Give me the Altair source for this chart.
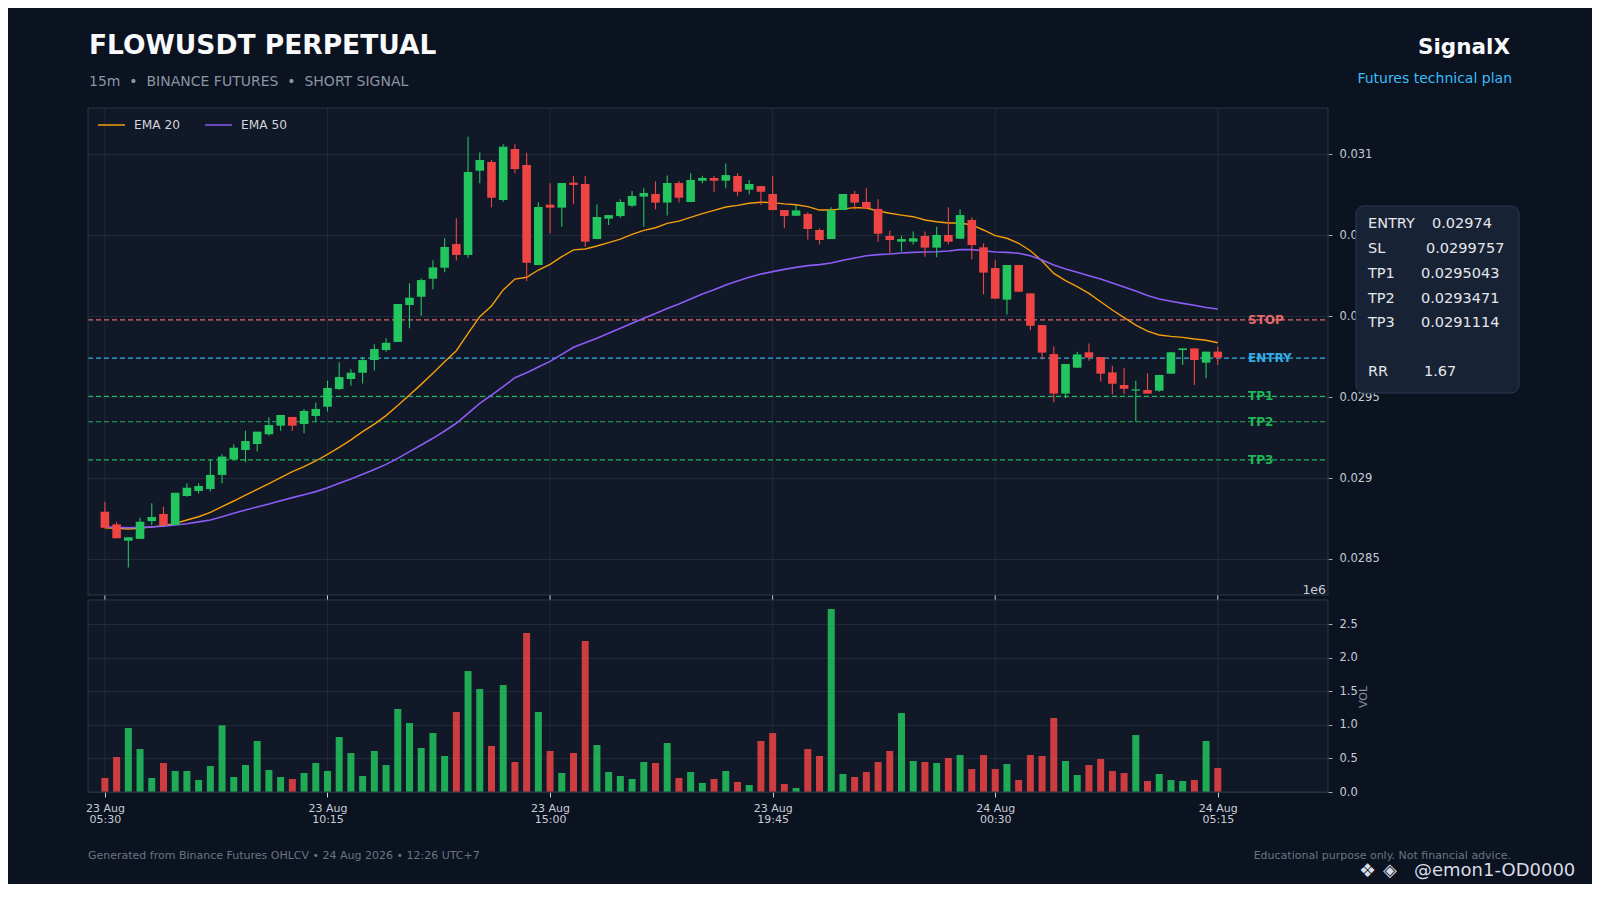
import altair as alt
import pandas as pd

# ---------------- data ----------------
opens = [0.028792, 0.028714, 0.028613, 0.028624, 0.028734, 0.028778, 0.028710, 0.028889, 0.028920, 0.028932,
         0.029019, 0.029115, 0.029173, 0.029210, 0.029270, 0.029323, 0.029377, 0.029333, 0.029383, 0.029440,
         0.029549, 0.029611, 0.029650, 0.029728, 0.029790, 0.029840, 0.030068, 0.030119, 0.030230, 0.030298,
         0.030444, 0.030377, 0.030897, 0.030951, 0.030716, 0.031031, 0.030932, 0.030315, 0.030687, 0.030669,
         0.030823, 0.030815, 0.030475, 0.030601, 0.030617, 0.030681, 0.030737, 0.030753, 0.030700, 0.030821,
         0.030704, 0.030835, 0.030852, 0.030835, 0.030864, 0.030780, 0.030802, 0.030753, 0.030654, 0.030619,
         0.030630, 0.030531, 0.030475, 0.030654, 0.030753, 0.030704, 0.030661, 0.030494, 0.030459, 0.030459,
         0.030494, 0.030422, 0.030500, 0.030477, 0.030593, 0.030424, 0.030296, 0.030101, 0.030315, 0.030140,
         0.029944, 0.029765, 0.029521, 0.029681, 0.029776, 0.029747, 0.029652, 0.029574, 0.029539, 0.029543,
         0.029539, 0.029644, 0.029790, 0.029800, 0.029712, 0.029780]
highs = [0.028854, 0.028730, 0.028634, 0.028755, 0.028844, 0.028823, 0.028909, 0.028967, 0.028967, 0.029117,
         0.029146, 0.029208, 0.029292, 0.029286, 0.029375, 0.029389, 0.029377, 0.029426, 0.029465, 0.029601,
         0.029714, 0.029671, 0.029749, 0.029825, 0.029862, 0.030074, 0.030202, 0.030233, 0.030344, 0.030480,
         0.030603, 0.031107, 0.031010, 0.030963, 0.031060, 0.031060, 0.031008, 0.030702, 0.030819, 0.030821,
         0.030864, 0.030864, 0.030689, 0.030623, 0.030720, 0.030772, 0.030788, 0.030831, 0.030868, 0.030833,
         0.030881, 0.030866, 0.030864, 0.030942, 0.030881, 0.030840, 0.030802, 0.030864, 0.030654, 0.030685,
         0.030640, 0.030541, 0.030671, 0.030753, 0.030772, 0.030788, 0.030720, 0.030527, 0.030496, 0.030521,
         0.030521, 0.030551, 0.030671, 0.030658, 0.030609, 0.030449, 0.030344, 0.030315, 0.030315, 0.030140,
         0.029944, 0.029811, 0.029704, 0.029780, 0.029831, 0.029747, 0.029693, 0.029681, 0.029601, 0.029646,
         0.029636, 0.029780, 0.029800, 0.029800, 0.029780, 0.029811]
lows = [0.028689, 0.028628, 0.028447, 0.028624, 0.028710, 0.028710, 0.028710, 0.028885, 0.028905, 0.028916,
        0.028967, 0.029111, 0.029097, 0.029163, 0.029261, 0.029292, 0.029292, 0.029276, 0.029344, 0.029410,
        0.029543, 0.029570, 0.029584, 0.029663, 0.029780, 0.029840, 0.029924, 0.030002, 0.030165, 0.030270,
        0.030342, 0.030360, 0.030819, 0.030671, 0.030706, 0.030881, 0.030216, 0.030315, 0.030510, 0.030551,
        0.030689, 0.030428, 0.030475, 0.030562, 0.030607, 0.030671, 0.030551, 0.030658, 0.030621, 0.030700,
        0.030704, 0.030819, 0.030767, 0.030788, 0.030741, 0.030751, 0.030685, 0.030654, 0.030541, 0.030619,
        0.030473, 0.030442, 0.030475, 0.030654, 0.030658, 0.030665, 0.030459, 0.030387, 0.030397, 0.030442,
        0.030366, 0.030362, 0.030442, 0.030477, 0.030350, 0.030134, 0.030107, 0.030010, 0.030150, 0.029912,
        0.029732, 0.029467, 0.029492, 0.029681, 0.029724, 0.029595, 0.029517, 0.029517, 0.029348, 0.029521,
        0.029533, 0.029644, 0.029698, 0.029574, 0.029615, 0.029698]
closes = [0.028693, 0.028628, 0.028634, 0.028730, 0.028759, 0.028710, 0.028909, 0.028940, 0.028951, 0.029019,
          0.029132, 0.029187, 0.029228, 0.029286, 0.029327, 0.029389, 0.029323, 0.029414, 0.029426, 0.029556,
          0.029623, 0.029650, 0.029728, 0.029796, 0.029835, 0.030074, 0.030113, 0.030222, 0.030300, 0.030426,
          0.030377, 0.030889, 0.030963, 0.030730, 0.031045, 0.030907, 0.030329, 0.030673, 0.030669, 0.030821,
          0.030809, 0.030459, 0.030611, 0.030623, 0.030704, 0.030741, 0.030759, 0.030700, 0.030821, 0.030730,
          0.030840, 0.030852, 0.030835, 0.030870, 0.030767, 0.030815, 0.030767, 0.030654, 0.030617, 0.030652,
          0.030537, 0.030469, 0.030652, 0.030753, 0.030700, 0.030665, 0.030508, 0.030469, 0.030475, 0.030480,
          0.030422, 0.030500, 0.030459, 0.030623, 0.030438, 0.030268, 0.030107, 0.030315, 0.030150, 0.029940,
          0.029774, 0.029521, 0.029704, 0.029763, 0.029743, 0.029644, 0.029582, 0.029551, 0.029547, 0.029521,
          0.029636, 0.029776, 0.029800, 0.029728, 0.029780, 0.029743]
volumes_m = [0.209, 0.522, 0.954, 0.641, 0.209, 0.432, 0.313, 0.313, 0.179, 0.387,
             0.994, 0.224, 0.402, 0.760, 0.328, 0.224, 0.194, 0.283, 0.432, 0.313,
             0.820, 0.581, 0.238, 0.611, 0.402, 1.237, 1.028, 0.656, 0.879, 0.537,
             1.192, 1.803, 1.535, 0.686, 1.595, 0.447, 2.370, 1.192, 0.611, 0.283,
             0.581, 2.250, 0.700, 0.298, 0.238, 0.194, 0.447, 0.432, 0.730, 0.209,
             0.298, 0.134, 0.194, 0.313, 0.149, 0.104, 0.760, 0.879, 0.119, 0.060,
             0.641, 0.537, 2.727, 0.268, 0.224, 0.298, 0.447, 0.611, 1.177, 0.462,
             0.447, 0.432, 0.507, 0.551, 0.343, 0.551, 0.343, 0.417, 0.179, 0.551,
             0.537, 1.103, 0.462, 0.253, 0.402, 0.492, 0.313, 0.283, 0.849, 0.164,
             0.268, 0.179, 0.164, 0.179, 0.760, 0.358]
ema20 = [0.028693, 0.028689, 0.028685, 0.028689, 0.028698, 0.028706, 0.028720, 0.028741, 0.028761, 0.028788,
         0.028823, 0.028858, 0.028895, 0.028930, 0.028965, 0.029002, 0.029039, 0.029070, 0.029105, 0.029146,
         0.029189, 0.029235, 0.029286, 0.029333, 0.029385, 0.029447, 0.029512, 0.029578, 0.029646, 0.029718,
         0.029786, 0.029893, 0.029996, 0.030062, 0.030161, 0.030228, 0.030239, 0.030284, 0.030319, 0.030366,
         0.030408, 0.030414, 0.030432, 0.030453, 0.030475, 0.030504, 0.030529, 0.030545, 0.030572, 0.030586,
         0.030609, 0.030632, 0.030652, 0.030673, 0.030683, 0.030696, 0.030702, 0.030700, 0.030692, 0.030687,
         0.030675, 0.030654, 0.030654, 0.030661, 0.030669, 0.030667, 0.030648, 0.030634, 0.030623, 0.030613,
         0.030593, 0.030582, 0.030574, 0.030574, 0.030562, 0.030531, 0.030496, 0.030480, 0.030449, 0.030403,
         0.030340, 0.030263, 0.030218, 0.030181, 0.030140, 0.030088, 0.030037, 0.029990, 0.029944, 0.029907,
         0.029883, 0.029874, 0.029868, 0.029858, 0.029850, 0.029835]
ema50 = [0.028698, 0.028696, 0.028693, 0.028696, 0.028698, 0.028702, 0.028710, 0.028718, 0.028729, 0.028741,
         0.028761, 0.028782, 0.028803, 0.028821, 0.028840, 0.028860, 0.028879, 0.028897, 0.028916, 0.028940,
         0.028967, 0.028994, 0.029023, 0.029053, 0.029084, 0.029121, 0.029163, 0.029204, 0.029245, 0.029290,
         0.029338, 0.029399, 0.029461, 0.029512, 0.029564, 0.029619, 0.029650, 0.029685, 0.029720, 0.029763,
         0.029807, 0.029835, 0.029862, 0.029893, 0.029924, 0.029955, 0.029986, 0.030016, 0.030047, 0.030074,
         0.030105, 0.030136, 0.030162, 0.030191, 0.030216, 0.030239, 0.030259, 0.030274, 0.030288, 0.030300,
         0.030311, 0.030317, 0.030327, 0.030344, 0.030358, 0.030372, 0.030379, 0.030383, 0.030389, 0.030393,
         0.030395, 0.030397, 0.030401, 0.030410, 0.030410, 0.030403, 0.030395, 0.030393, 0.030387, 0.030372,
         0.030346, 0.030315, 0.030290, 0.030270, 0.030249, 0.030228, 0.030204, 0.030179, 0.030154, 0.030126,
         0.030105, 0.030091, 0.030078, 0.030066, 0.030053, 0.030043]

tick_idx = [0, 19, 38, 57, 76, 95]
tick_day = ["23 Aug", "23 Aug", "23 Aug", "23 Aug", "24 Aug", "24 Aug"]
tick_time = ["05:30", "10:15", "15:00", "19:45", "00:30", "05:15"]
price_ticks = [0.0285, 0.029, 0.0295, 0.030, 0.0305, 0.031]
vol_ticks = [0.0, 0.5, 1.0, 1.5, 2.0, 2.5]

level_names = ["STOP", "ENTRY", "TP1", "TP2", "TP3"]
level_prices = [0.0299757, 0.02974, 0.0295043, 0.0293471, 0.0291114]
risk_reward = 1.67
box_labels = ["ENTRY", "SL", "TP1", "TP2", "TP3", "RR"]
box_values = [level_prices[1], level_prices[0], level_prices[2], level_prices[3], level_prices[4], risk_reward]

legend_labels = ["EMA 20", "EMA 50"]
title_text = "FLOWUSDT PERPETUAL"
subtitle_text = "15m\u00a0\u00a0\u2022\u00a0\u00a0BINANCE FUTURES\u00a0\u00a0\u2022\u00a0\u00a0SHORT SIGNAL"
brand_text = "SignalX"
brand_sub_text = "Futures technical plan"
footer_left = "Generated from Binance Futures OHLCV \u2022 24 Aug 2026 \u2022 12:26 UTC+7"
footer_right = "Educational purpose only. Not financial advice."
watermark_text = "@emon1-OD0000"

# ---------------- styling / layout ----------------
FONT = "DejaVu Sans"
PAGE_BG = "#0b1220"
PANEL_BG = "#111827"
GRID = "#232e3e"
BORDER = "#2c3647"
TICK = "#a3abb8"
LABEL = "#c8cdd5"
GREEN = "#22c55e"
RED = "#ef4444"
ORANGE = "#f59e0b"
PURPLE = "#8b5cf6"
LEVEL_COLORS = {"STOP": "#f87171", "ENTRY": "#38bdf8", "TP1": "#22c55e", "TP2": "#22c55e", "TP3": "#22c55e"}

W, H = 1240, 684
PH = 487      # bottom of price panel
VT = 492      # top of volume panel

df = pd.DataFrame({"idx": list(range(len(opens))), "open": opens, "high": highs, "low": lows,
                   "close": closes, "vol": volumes_m, "ema20": ema20, "ema50": ema50})

label_expr = "".join(
    f"datum.value == {i} ? ['{d}', '{t}'] : " for i, d, t in zip(tick_idx, tick_day, tick_time)
) + "''"

xscale = alt.Scale(domain=[-1.016, 103.98], nice=False, zero=False)
xaxis = alt.Axis(values=tick_idx, labelExpr=label_expr, grid=False, domain=False, ticks=True,
                 tickSize=5, tickColor="#cfd4dc", labelColor=LABEL, labelFont=FONT, labelFontSize=11,
                 labelPadding=5, labelLineHeight=11.5, labelFlush=False, labelAngle=0, title=None)
X = alt.X("idx:Q", scale=xscale, axis=xaxis)

yp_scale = alt.Scale(domain=[0.0270617, 0.0312840], nice=False, zero=False)
yp_axis = alt.Axis(orient="right", values=price_ticks, labelExpr="format(datum.value, '~g')",
                   grid=True, gridColor=GRID, gridWidth=0.8, domain=False, ticks=True, tickSize=4,
                   tickColor=TICK, labelColor=LABEL, labelFont=FONT, labelFontSize=11.5,
                   labelPadding=7, title=None)


def YP(field):
    return alt.Y(f"{field}:Q", scale=yp_scale, axis=yp_axis)


yv_scale = alt.Scale(domain=[0, 10.197], nice=False, zero=True)
yv_axis = alt.Axis(orient="right", values=vol_ticks, format=".1f", grid=True, gridColor=GRID,
                   gridWidth=0.8, domain=False, ticks=True, tickSize=4, tickColor=TICK,
                   labelColor=LABEL, labelFont=FONT, labelFontSize=11.5, labelPadding=7, title=None)

one = pd.DataFrame({"k": [0]})
up_cond = "datum.close >= datum.open"


def text_layer(s, x, y, size, color, weight="normal", align="left", baseline="alphabetic",
               angle=None, opacity=1.0):
    kw = dict(align=align, baseline=baseline, fontSize=size, color=color, font=FONT,
              fontWeight=weight, opacity=opacity)
    if angle:
        kw["angle"] = angle
    return alt.Chart(pd.DataFrame({"t": [s]})).mark_text(**kw).encode(
        x=alt.value(x), y=alt.value(y), text="t:N")


tick_df = pd.DataFrame({"idx": tick_idx})

gap = alt.Chart(one).mark_rect(color=PAGE_BG).encode(
    x=alt.value(0), x2=alt.value(W), y=alt.value(PH), y2=alt.value(VT))
vgrid_p = alt.Chart(tick_df).mark_rule(color=GRID, strokeWidth=0.8).encode(
    x=X, y=alt.value(0), y2=alt.value(PH))
vgrid_v = alt.Chart(tick_df).mark_rule(color=GRID, strokeWidth=0.8).encode(
    x=X, y=alt.value(VT), y2=alt.value(H))
pticks = alt.Chart(tick_df).mark_rule(color="#cfd4dc", strokeWidth=1).encode(
    x=X, y=alt.value(PH), y2=alt.value(PH + 5))

# price panel layers
price_layers = []
for name, price in zip(level_names, level_prices):
    price_layers.append(
        alt.Chart(pd.DataFrame({"name": [name], "price": [price]}))
        .mark_rule(strokeDash=[5, 3], strokeWidth=1.2, color=LEVEL_COLORS[name], opacity=0.9)
        .encode(y=YP("price"), x=alt.value(0), x2=alt.value(W))
    )
price_layers.append(alt.Chart(df).mark_line(color=ORANGE, strokeWidth=1.4).encode(x=X, y=YP("ema20")))
price_layers.append(alt.Chart(df).mark_line(color=PURPLE, strokeWidth=1.6).encode(x=X, y=YP("ema50")))
price_layers.append(
    alt.Chart(df).mark_rule(strokeWidth=1.1).encode(
        x=X, y=YP("low"), y2="high",
        color=alt.condition(up_cond, alt.value(GREEN), alt.value(RED)))
)
price_layers.append(
    alt.Chart(df).mark_bar(size=8.6).encode(
        x=X, y=YP("open"), y2="close",
        color=alt.condition(up_cond, alt.value(GREEN), alt.value(RED)))
)
for name, price in zip(level_names, level_prices):
    price_layers.append(
        alt.Chart(pd.DataFrame({"name": [name], "price": [price]}))
        .mark_text(align="left", baseline="middle", fontSize=12, fontWeight="bold", font=FONT,
                   color=LEVEL_COLORS[name], opacity=0.9)
        .encode(x=alt.value(1160), y=YP("price"), text="name:N")
    )
price = alt.layer(*price_layers)

volume = alt.Chart(df).mark_bar(size=7, opacity=0.85).encode(
    x=X, y=alt.Y("vol:Q", scale=yv_scale, axis=yv_axis),
    color=alt.condition(up_cond, alt.value(GREEN), alt.value(RED)))

borders = [
    alt.Chart(one).mark_rect(fill="transparent", stroke=BORDER, strokeWidth=1).encode(
        x=alt.value(0), x2=alt.value(W), y=alt.value(0), y2=alt.value(PH)),
    alt.Chart(one).mark_rect(fill="transparent", stroke=BORDER, strokeWidth=1).encode(
        x=alt.value(0), x2=alt.value(W), y=alt.value(VT), y2=alt.value(H)),
]

legend = [
    alt.Chart(one).mark_rule(color=ORANGE, strokeWidth=1.5).encode(
        x=alt.value(10), x2=alt.value(37), y=alt.value(17)),
    text_layer(legend_labels[0], 46, 17, 12.2, "#d1d5db", baseline="middle"),
    alt.Chart(one).mark_rule(color=PURPLE, strokeWidth=1.5).encode(
        x=alt.value(117), x2=alt.value(144), y=alt.value(17)),
    text_layer(legend_labels[1], 153, 17, 12.2, "#d1d5db", baseline="middle"),
]

box = [alt.Chart(one).mark_rect(cornerRadius=8, fill="#172235", stroke="#2d3b50", strokeWidth=1).encode(
    x=alt.value(1268), x2=alt.value(1431), y=alt.value(98), y2=alt.value(285))]
row_y = [116, 141.3, 166.3, 190.7, 215.3, 263.7]
val_x = [1344, 1338, 1333, 1333, 1333, 1336]
for lab, val, yy, vx in zip(box_labels, box_values, row_y, val_x):
    box.append(text_layer(lab, 1280, yy, 14.5, "#e5e7eb", baseline="middle"))
    box.append(text_layer(f"{val:g}", vx, yy, 14.5, "#e5e7eb", baseline="middle"))

texts = [
    text_layer(title_text, 1, -54, 26.5, "#f8fafc", weight="bold"),
    text_layer(subtitle_text, 1, -22, 14, "#8b95a5"),
    text_layer(brand_text, 1422, -53.7, 21.5, "#f8fafc", weight="bold", align="right"),
    text_layer(brand_sub_text, 1424, -24.7, 14, "#38bdf8", align="right"),
    text_layer("1e6", 1238, 482, 12.5, LABEL, align="right", baseline="middle"),
    text_layer("VOL", 1276, 589, 11, "#8b93a1", align="center", baseline="middle", angle=270),
    text_layer(footer_left, 0, 751, 11, "#6b7483"),
    text_layer(footer_right, 1423, 751, 11, "#6b7483", align="right"),
    text_layer("\u2756", 1271, 763, 19, "#d8dce3", baseline="middle"),
    text_layer("\u25c8", 1295, 763, 18, "#d8dce3", baseline="middle"),
    text_layer(watermark_text, 1326, 763, 18, "#d8dce3", baseline="middle"),
]

chart = alt.layer(
    gap, vgrid_p, vgrid_v, pticks, price, volume, *borders, *legend, *box, *texts
).resolve_scale(y="independent").properties(
    width=W, height=H,
    padding={"left": 80, "top": 100, "right": 264, "bottom": 92},
    autosize=alt.AutoSizeParams(type="none"),
).configure(background=PAGE_BG, font=FONT).configure_view(fill=PANEL_BG, stroke=None)

chart.save("out.html", embed_options={"renderer": "svg", "actions": False})
